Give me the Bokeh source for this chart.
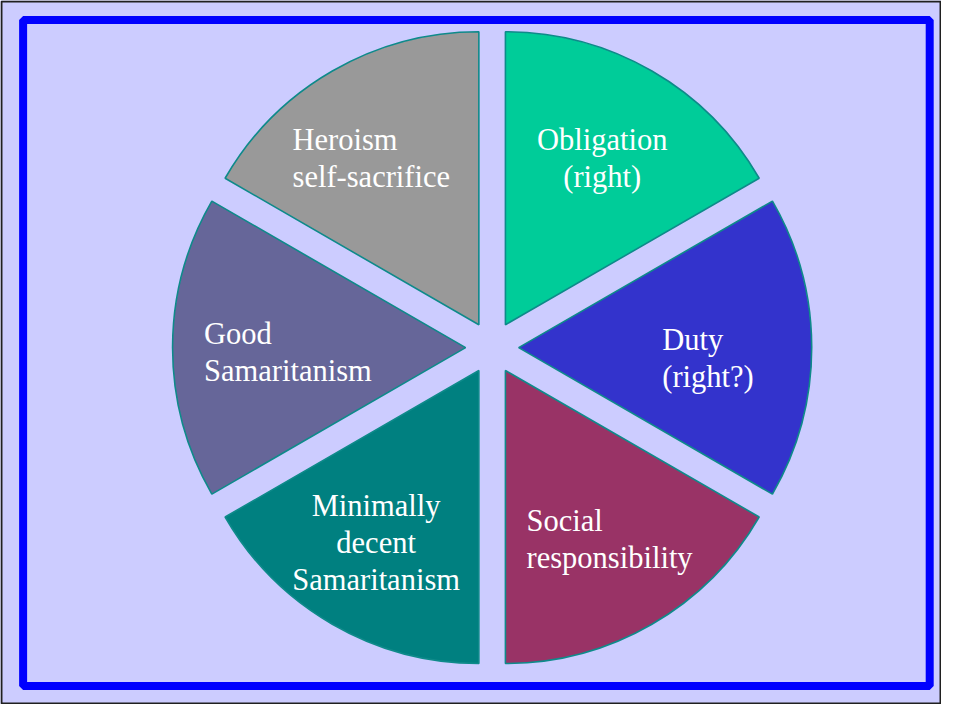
import numpy as np
from bokeh.plotting import figure
from bokeh.models import Range1d
from bokeh.core.properties import value
from bokeh.embed import file_html
from bokeh.resources import INLINE

# ---- data ----
categories = ["Obligation", "Duty", "Social responsibility",
              "Minimally decent Samaritanism", "Good Samaritanism", "Heroism"]
shares = [1, 1, 1, 1, 1, 1]
label_lines = [
    ["Obligation", "(right)"],
    ["Duty", "(right?)"],
    ["Social", "responsibility"],
    ["Minimally", "decent", "Samaritanism"],
    ["Good", "Samaritanism"],
    ["Heroism", "self-sacrifice"],
]
colors = ["#00CC99", "#3333CC", "#993366", "#008080", "#666699", "#999999"]

# ---- layout / style (reference pixel space 957 x 720) ----
REF_W, REF_H = 957, 720
W, H = 941, 704
cx, cy = 500, REF_H - 355
radius = 298
explode = 27
font = "Liberation Serif"
font_size = "30.5px"
line_gap = 38
# label anchors (x, first baseline y in reference px) and alignment
label_pos = [(612, 143, "center"), (673, 347, "left"), (535, 532, "left"),
             (382, 517, "center"), (207, 341, "left"), (297, 143, "left")]

p = figure(width=W, height=H, output_backend="svg", toolbar_location=None,
           x_range=Range1d(0, REF_W), y_range=Range1d(0, REF_H),
           min_border=0)
p.axis.visible = False
p.grid.visible = False
p.outline_line_color = None
p.background_fill_color = "#CCCCFF"
p.border_fill_color = "#CCCCFF"

# outer thin dark frame
p.rect(x=[REF_W / 2], y=[REF_H / 2], width=[REF_W - 2], height=[REF_H - 2],
       fill_color=None, line_color="#202020", line_width=2)
# blue frame
p.rect(x=[(23 + 945) / 2], y=[REF_H - (20 + 701) / 2], width=[945 - 23], height=[701 - 20],
       fill_color=None, line_color="#0000FF", line_width=8)

tot = float(sum(shares))
cum = np.cumsum([0] + shares) / tot
ends = np.deg2rad(90 - 360 * cum[:-1])
starts = np.deg2rad(90 - 360 * cum[1:])
mids = (starts + ends) / 2
xs = cx + explode * np.cos(mids)
ys = cy + explode * np.sin(mids)

p.wedge(x=xs, y=ys, radius=radius, start_angle=starts, end_angle=ends,
        fill_color=colors, line_color="#0E8A8A", line_width=1.6)

tx, ty, tt, ta = [], [], [], []
for lines, (lx, ly, al) in zip(label_lines, label_pos):
    for k, ln in enumerate(lines):
        tx.append(lx)
        ty.append(REF_H - (ly + k * line_gap))
        tt.append(ln)
        ta.append(al)

for al in ["left", "center"]:
    idx = [i for i, a in enumerate(ta) if a == al]
    p.text(x=[tx[i] for i in idx], y=[ty[i] for i in idx], text=[tt[i] for i in idx],
           text_font=value(font), text_font_size=font_size, text_color="white",
           text_align=al, text_baseline="alphabetic")

open("out.html", "w").write(file_html(p, INLINE))
